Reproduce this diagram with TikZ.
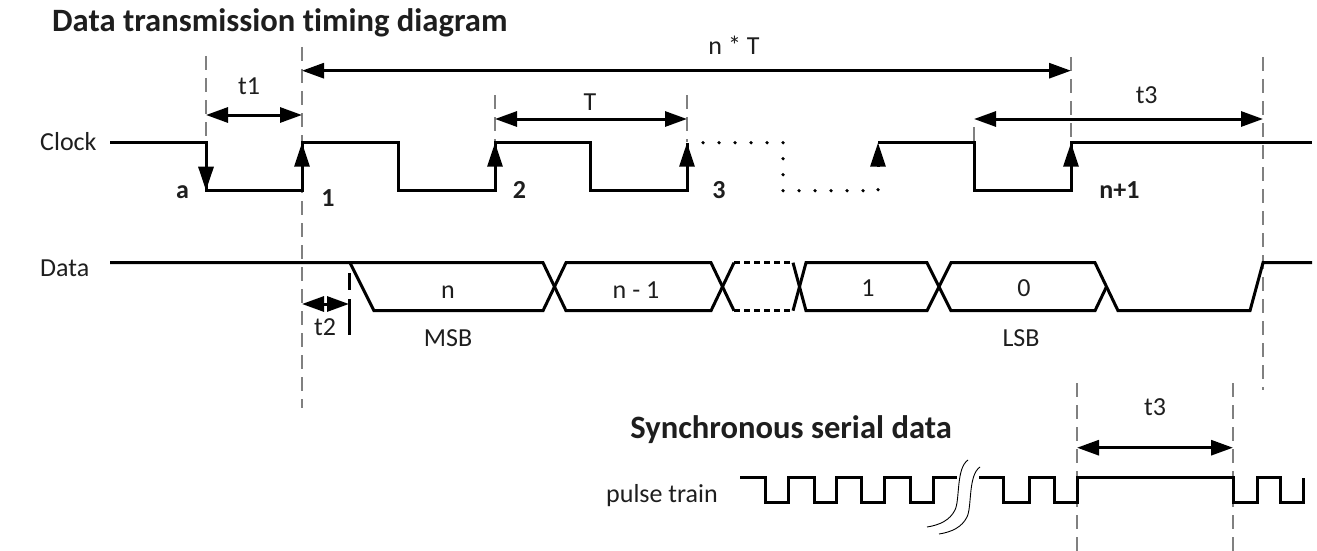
\documentclass[tikz,border=0pt]{standalone}
\usepackage{fontspec}
\setmainfont{Carlito}[Ligatures=NoCommon]
\usetikzlibrary{arrows.meta}
\definecolor{guidegray}{RGB}{128,128,128}
\definecolor{txt}{RGB}{30,30,30}
\tikzset{
  sig/.style={line width=3pt, line join=miter},
  thin sig/.style={line width=0.9pt},
  guide/.style={guidegray, line width=1.6pt, dash pattern=on 14pt off 8pt},
  dimarrow/.style={line width=3pt, {Triangle[length=22pt,width=15pt]}-{Triangle[length=22pt,width=15pt]}},
  edgearrow/.style={line width=3pt, -{Triangle[length=24pt,width=15pt]}},
  dots/.style={line width=3.6pt, line cap=round, dash pattern=on 0pt off 16pt},
  busdots/.style={line width=3pt, dash pattern=on 6pt off 4pt},
  lbl/.style={txt, font=\fontsize{26}{30}\selectfont, inner sep=0pt},
  num/.style={txt, font=\fontsize{26}{30}\selectfont\bfseries, inner sep=0pt},
  ttl/.style={txt, font=\fontsize{32.6}{38}\selectfont\bfseries, inner sep=0pt},
}
\begin{document}
\begin{tikzpicture}[x=1pt, y=-1pt]
\useasboundingbox (0,0) rectangle (1317,551);

% titles and row labels
\node[ttl, anchor=base west] (title) at (52,31.7) {Data transmission timing diagram};
\node[lbl, anchor=base west] (clk) at (40,150) {Clock};
\node[lbl, anchor=base west] (dat) at (40,276) {Data};

% guide lines
\draw[guide] (206,56) -- (206,142);
\draw[guide] (302,47) -- (302,408);
\draw[guide] (495,95) -- (495,142);
\draw[guide] (687,95) -- (687,142);
\draw[guide] (974,127) -- (974,142);
\draw[guide] (1071,57) -- (1071,142);
\draw[guide] (1263,57) -- (1263,390);
\draw[guide] (1077,383) -- (1077,551);
\draw[guide] (1233,383) -- (1233,551);

% clock waveform
\draw[sig] (110,142.7) -- (206,142.7) -- (206,190.7) -- (302,190.7) -- (302,142.7)
  -- (398,142.7) -- (398,190.7) -- (495,190.7) -- (495,142.7)
  -- (590,142.7) -- (590,190.7) -- (687,190.7) -- (687,142.7);
\draw[dots] (703,142.7) -- (783,142.7) -- (783,190.7) -- (878,190.7) -- (878,174.7);
\draw[sig] (878,142.7) -- (974,142.7) -- (974,190.7) -- (1071,190.7) -- (1071,142.7) -- (1312,142.7);

% clock edge arrows
\draw[edgearrow] (206,142.7) -- (206,190.7);
\draw[edgearrow] (302,190.7) -- (302,142.7);
\draw[edgearrow] (495,190.7) -- (495,142.7);
\draw[edgearrow] (687,190.7) -- (687,142.7);
\draw[edgearrow] (878,166.7) -- (878,142.7);
\draw[edgearrow] (1071,190.7) -- (1071,142.7);

% clock labels
\node[num, anchor=base] (la) at (182.5,198.3) {a};
\node[num, anchor=base] (l1) at (328,206.7) {1};
\node[num, anchor=base] (l2) at (519.5,198.3) {2};
\node[num, anchor=base] (l3) at (719,198.3) {3};
\node[num, anchor=base] (ln1) at (1119.5,198.3) {n+1};

% dimension arrows (top)
\coordinate (t1a) at (206,115); \coordinate (t1b) at (302,115);
\draw[dimarrow] (t1a) -- (t1b);
\node[lbl, anchor=base] (t1) at (249,94) {t1};
\coordinate (nTa) at (302,70.7); \coordinate (nTb) at (1071,70.7);
\draw[dimarrow] (nTa) -- (nTb);
\node[lbl, anchor=base] (nT) at (734,55) {n * T};
\coordinate (Ta) at (495,119); \coordinate (Tb) at (687,119);
\draw[dimarrow] (Ta) -- (Tb);
\node[lbl, anchor=base] (T) at (590,110.7) {T};
\coordinate (t3a) at (974,119); \coordinate (t3b) at (1263,119);
\draw[dimarrow] (t3a) -- (t3b);
\node[lbl, anchor=base] (t3) at (1146.7,103) {t3};

% data bus
\draw[sig] (110,262.7) -- (543,262.7) -- (566,310.7) -- (711,310.7) -- (734,262.7);
\draw[sig] (350,262.7) -- (374,310.7) -- (543,310.7) -- (566,262.7) -- (711,262.7) -- (734,310.7);
\draw[busdots] (734,262.7) -- (793,262.7);
\draw[busdots] (734,310.7) -- (793,310.7);
\draw[sig] (793,262.7) -- (806,310.7) -- (927,310.7) -- (951,262.7) -- (1095,262.7)
  -- (1118,310.7) -- (1250,310.7) -- (1263,262.7) -- (1312,262.7);
\draw[sig] (793,310.7) -- (806,262.7) -- (927,262.7) -- (951,310.7) -- (1095,310.7) -- (1106.5,286.7);

\node[lbl, anchor=base] (bn) at (448,298) {n};
\node[lbl, anchor=base] (bn1) at (636,298) {n - 1};
\node[lbl, anchor=base] (b1) at (868,296) {1};
\node[lbl, anchor=base] (b0) at (1024,296) {0};
\node[lbl, anchor=base] (msb) at (448,346.7) {MSB};
\node[lbl, anchor=base] (lsb) at (1021,346.7) {LSB};

% t2
\coordinate (t2a) at (302,304); \coordinate (t2b) at (349,304);
\draw[dimarrow] (t2a) -- (t2b);
\draw[line width=3.5pt] (349.5,273) -- (349.5,290);
\draw[line width=3.5pt] (349.5,299) -- (349.5,335);
\node[lbl, anchor=base] (t2) at (325,335) {t2};

% synchronous serial data
\node[ttl, anchor=base east] (sub) at (952,438) {Synchronous serial data};
\node[lbl, anchor=base east] (pt) at (718,502) {pulse train};
\draw[sig] (740,477.5) -- (765,477.5) -- (765,502.5) -- (788,502.5) -- (788,477.5)
  -- (814,477.5) -- (814,502.5) -- (836,502.5) -- (836,477.5)
  -- (861,477.5) -- (861,502.5) -- (884,502.5) -- (884,477.5)
  -- (910,477.5) -- (910,502.5) -- (933,502.5) -- (933,477.5) -- (957,477.5);
\draw[sig] (979,477.5) -- (1003,477.5) -- (1003,502.5) -- (1029,502.5) -- (1029,477.5)
  -- (1054,477.5) -- (1054,502.5) -- (1077,502.5) -- (1077,477.5)
  -- (1233,477.5) -- (1233,502.5) -- (1257,502.5) -- (1257,477.5)
  -- (1280,477.5) -- (1280,502.5) -- (1303,502.5) -- (1303,477.5);
\draw[thin sig] (968,460) .. controls (956,468) and (960,500) .. (955,510)
  .. controls (950,520) and (940,525) .. (927,527);
\draw[thin sig] (980,467) .. controls (968,475) and (972,507) .. (967,517)
  .. controls (962,527) and (952,532) .. (939,534);
\coordinate (bt3a) at (1077,447.7); \coordinate (bt3b) at (1233,447.7);
\draw[dimarrow] (bt3a) -- (bt3b);
\node[lbl, anchor=base] (bt3) at (1155,415) {t3};
\end{tikzpicture}
\end{document}
